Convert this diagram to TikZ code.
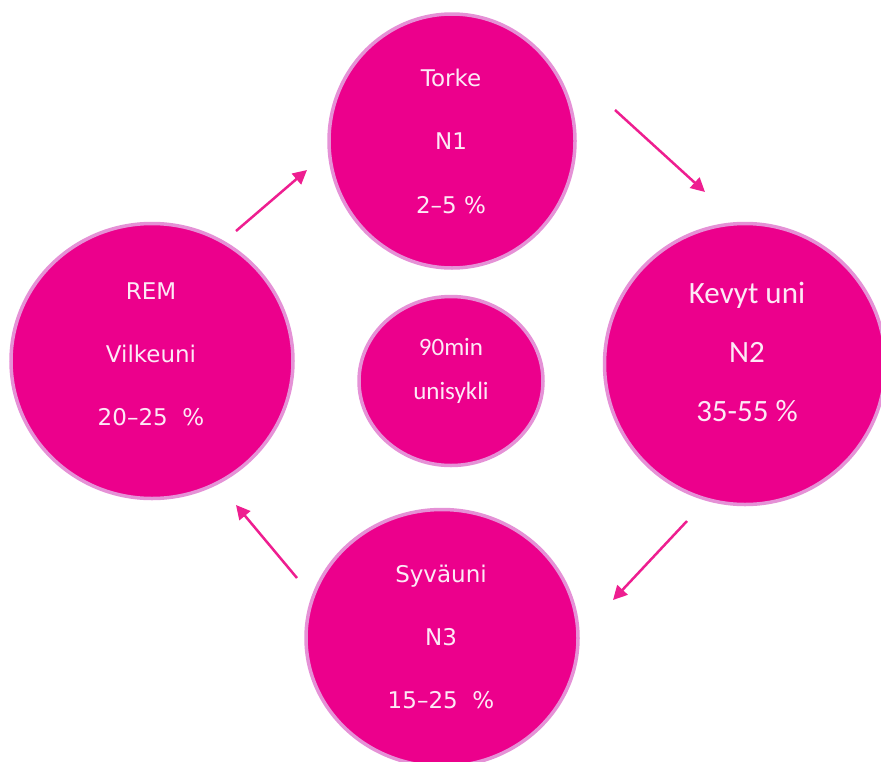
\documentclass[tikz,border=0pt]{standalone}
\usepackage{fontspec}
\setmainfont{DejaVu Sans}
\newfontfamily\calib{Carlito}
\usetikzlibrary{shapes.geometric,arrows.meta}
\definecolor{unipink}{HTML}{EC008C}
\definecolor{rimpink}{HTML}{E591D6}
\definecolor{arrowpink}{HTML}{EE1E90}
\definecolor{textpink}{HTML}{FDE9F6}
\begin{document}
\begin{tikzpicture}[x=1pt,y=-1pt,
    stage/.style={ellipse,draw=rimpink,fill=unipink,line width=3.5pt,inner sep=0pt},
    stagetext/.style={text=textpink,align=center,inner sep=0pt},
    cycle/.style={draw=arrowpink,line width=2.5pt,-{Triangle[length=14pt,width=14pt]}}]
                    \useasboundingbox (0,0) rectangle (881,761);
                    %NODE
                    \node[stage,minimum width=246pt,minimum height=254pt] (N1) at (452,141){};
                    \node[stage,minimum width=281pt,minimum height=281pt] (N2) at (745,364){};
                    \node[stage,minimum width=272pt,minimum height=257pt] (N3) at (442,638){};
                    \node[stage,minimum width=282pt,minimum height=275pt] (R) at (152,361){};
                    \node[stage,minimum width=184pt,minimum height=169pt] (M) at (451,381){};
                    
                    %TEXT
                    \node[stagetext,font=\fontsize{23}{63.5}\selectfont] (N1t) at (451,141){Torke\\N1\\2–5 \%};
                    \node[stagetext,font=\calib\fontsize{31}{59}\selectfont] (N2t) at (747,352){Kevyt uni\\N2\\35-55 \%};
                    \node[stagetext,font=\fontsize{23}{63}\selectfont] (N3t) at (441,637){Syväuni\\N3\\15–25\ \ \%};
                    \node[stagetext,font=\fontsize{23}{63}\selectfont] (Rt) at (151,354){REM\\Vilkeuni\\20–25\ \ \%};
                    \node[stagetext,font=\calib\fontsize{25}{44}\selectfont] (Mt) at (451,371){90min\\unisykli};
                    
                    %EDGE
                    \coordinate (a1) at (236,231); \coordinate (b1) at (307,170);
                    \coordinate (a2) at (615,110); \coordinate (b2) at (705,192);
                    \coordinate (a3) at (687,521); \coordinate (b3) at (613,600);
                    \coordinate (a4) at (297,578); \coordinate (b4) at (236,505);
                    \draw[cycle] (a1) -- (b1);
                    \draw[cycle] (a2) -- (b2);
                    \draw[cycle] (a3) -- (b3);
                    \draw[cycle] (a4) -- (b4);
                \end{tikzpicture}
\end{document}
